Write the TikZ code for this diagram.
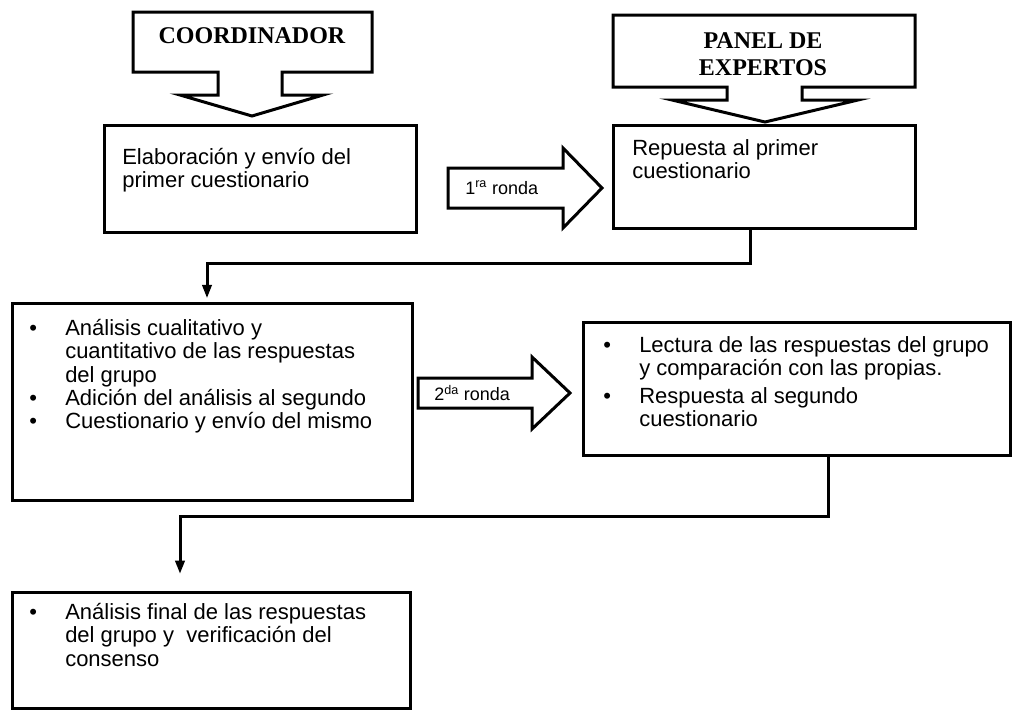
\documentclass[tikz,border=0pt]{standalone}
\usepackage{fontspec}
\setmainfont{Liberation Sans}
\newfontfamily\calloutfont{Liberation Serif}
\usetikzlibrary{fit,arrows.meta}
\begin{document}
\begin{tikzpicture}[x=0.75pt,y=-0.75pt,
  box/.style={draw,line width=2.25pt,inner sep=0pt,line join=miter},
  blk/.style={draw,line width=2.25pt,line join=miter,fill=white},
  txt/.style={inner sep=0pt,anchor=north west,font=\fontsize{16.5pt}{17.5pt}\selectfont},
  callt/.style={inner sep=0pt,align=center,font=\fontsize{18pt}{20pt}\selectfont\calloutfont\bfseries},
  lbl/.style={inner sep=0pt,anchor=west,font=\fontsize{13.5pt}{15pt}\selectfont},
  conn/.style={line width=2.25pt,line join=miter,-{Triangle[width=7pt,length=10pt]}}
]
\useasboundingbox (0,0) rectangle (1013,711);

% callouts
\draw[blk] (133,12) -- (372,12) -- (372,72) -- (282,72) -- (282,95) -- (323,95)
  -- (252,116) -- (180,95) -- (218,95) -- (218,72) -- (133,72) -- cycle;
\node[callt] (coord) at (252,36) {COORDINADOR};

\draw[blk] (613,15) -- (915,15) -- (915,87) -- (802,87) -- (802,100) -- (858,100)
  -- (765,122) -- (672,100) -- (727,100) -- (727,87) -- (613,87) -- cycle;
\node[callt] (panel) at (763,54) {PANEL DE\\EXPERTOS};

% boxes
\node[box,fit={(104,125) (416,232)}] (b1) {};
\node[box,fit={(613,125) (915,228)}] (b2) {};
\node[box,fit={(12,303) (412,500)}] (b3) {};
\node[box,fit={(583,322) (1010,455)}] (b4) {};
\node[box,fit={(12,592) (410,708)}] (b5) {};

% texts
\node[txt] (t1) at (122,148) {\begin{tabular}{@{}l@{}}Elaboración y envío del\\primer cuestionario\end{tabular}};
\node[txt] (t2) at (632,139) {\begin{tabular}{@{}l@{}}Repuesta al primer\\cuestionario\end{tabular}};
\node[txt] (t3) at (29,319) {\begin{tabular}{@{}p{27pt}@{}l@{}}\textbullet & Análisis cualitativo y\\
  & cuantitativo de las respuestas\\
  & del grupo\\
  \textbullet & Adición del análisis al segundo\\
  \textbullet & Cuestionario y envío del mismo\end{tabular}};
\node[txt] (t4) at (603,336) {\begin{tabular}{@{}p{27pt}@{}l@{}}\textbullet & Lectura de las respuestas del grupo\\
  & y comparación con las propias.\\[3pt]
  \textbullet & Respuesta al segundo\\
  & cuestionario\end{tabular}};
\node[txt] (t5) at (29,603) {\begin{tabular}{@{}p{27pt}@{}l@{}}\textbullet & Análisis final de las respuestas\\
  & del grupo y\ \ verificación del\\
  & consenso\end{tabular}};

% block arrows
\draw[blk] (448,168) -- (563,168) -- (563,148) -- (602,188) -- (563,228) -- (563,208) -- (448,208) -- cycle;
\node[lbl] (r1) at (465,188) {1\textsuperscript{ra} ronda};
\draw[blk] (418,378) -- (532,378) -- (532,357) -- (570,393) -- (532,429) -- (532,408) -- (418,408) -- cycle;
\node[lbl] (r2) at (434,393) {2\textsuperscript{da} ronda};

% connectors
\coordinate (j1) at (750,263);
\coordinate (k1) at (207,263);
\draw[conn,shorten >=2.5pt] (b2.south -| j1) -- (j1) -- (k1) -- (b3.north -| k1);
\coordinate (j2) at (828,516);
\coordinate (k2) at (180,516);
\draw[conn,shorten >=12.5pt] (b4.south -| j2) -- (j2) -- (k2) -- (b5.north -| k2);
\end{tikzpicture}
\end{document}
